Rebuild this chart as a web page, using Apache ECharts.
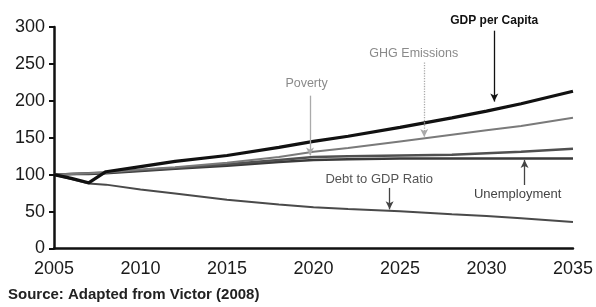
<!doctype html>
<html>
<head>
<meta charset="utf-8">
<title>Victor 2008</title>
<style>
  html, body { margin: 0; padding: 0; background: #fff; }
  #main { width: 596px; height: 307px; }
</style>
</head>
<body>
<div id="main"></div>
<script src="https://cdn.jsdelivr.net/npm/echarts@6/dist/echarts.min.js"></script>
<script>
var years = [2005, 2006, 2007, 2008, 2010, 2012, 2015, 2018, 2020, 2022, 2025, 2028, 2030, 2032, 2035];

var gdpPerCapita = [100, 95, 89, 104, 111, 118, 126, 137, 145, 152, 164, 177, 186, 196, 213];
var ghgEmissions = [100, 101, 102, 103, 107, 110, 116, 124, 131, 136, 145, 154, 160, 166, 177];
var poverty      = [100, 101, 102, 103, 106, 109, 114, 120, 124, 125, 126, 127, 129, 131, 135];
var unemployment = [100, 101, 101, 102, 105, 108, 112, 117, 120, 121, 122, 122, 122, 122, 122];
var debtToGdp    = [100, 94, 88, 86.5, 80, 74.5, 66, 59.5, 56, 53.5, 50.5, 46.5, 44, 41, 36];

// annotation text position [year, value] and arrow [year, from, to]
var labelNames = ['GDP per Capita', 'GHG Emissions', 'Poverty', 'Debt to GDP Ratio', 'Unemployment'];
var labelAt = [[2030.3, 309.5], [2025.8, 264.5], [2019.6, 223], [2023.8, 94], [2031.8, 73.5]];
var arrows = [[2030.45, 295, 199], [2026.4, 252, 151], [2019.8, 207, 126], [2024.4, 82, 53], [2032.2, 86, 120]];

var font = 'Liberation Sans, Arial, sans-serif';

function pairs(vals) {
    return years.map(function (y, i) { return [y, vals[i]]; });
}

function note(i, textStyle, arrowColor, arrowType) {
    var out = {
        markLine: {
            silent: true,
            symbol: ['none', 'arrow'],
            symbolSize: [6, 8],
            label: { show: false },
            lineStyle: { color: arrowColor, width: 1.3, type: arrowType },
            data: [[{ coord: [arrows[i][0], arrows[i][1]] }, { coord: [arrows[i][0], arrows[i][2]] }]]
        }
    };
    if (labelAt[i][1] > 300) {
        // above the plot: hang the text on the arrow start
        out.markLine.label = Object.assign({ show: true, position: 'start', distance: 4,
            formatter: labelNames[i], fontFamily: font }, textStyle);
    } else {
        out.markPoint = {
            symbol: 'circle',
            symbolSize: 1,
            silent: true,
            itemStyle: { color: 'rgba(0,0,0,0)' },
            label: Object.assign({ show: true, position: 'inside', formatter: labelNames[i],
                fontFamily: font }, textStyle),
            data: [{ coord: labelAt[i] }]
        };
    }
    return out;
}

function line(name, vals, color, width, extra) {
    return Object.assign({
        name: name,
        type: 'line',
        data: pairs(vals),
        smooth: false,
        showSymbol: false,
        clip: false,
        lineStyle: { color: color, width: width },
        itemStyle: { color: color }
    }, extra);
}

var chart = echarts.init(document.getElementById('main'));

chart.setOption({
    animation: false,
    backgroundColor: '#fff',
    grid: { left: 54, right: 21, top: 27, bottom: 58.5 },
    xAxis: {
        type: 'value',
        min: 2005,
        max: 2035,
        interval: 5,
        axisLine: { lineStyle: { color: '#111', width: 2.5 } },
        axisTick: { show: false },
        splitLine: { show: false },
        axisLabel: { color: '#1a1a1a', fontSize: 18, margin: 12, fontFamily: font,
            formatter: function (v) { return String(v); } }
    },
    yAxis: {
        type: 'value',
        min: 0,
        max: 300,
        interval: 50,
        axisLine: { show: true, lineStyle: { color: '#111', width: 2.5 } },
        axisTick: { show: true, length: 5, lineStyle: { color: '#111', width: 2 } },
        splitLine: { show: false },
        axisLabel: { color: '#1a1a1a', fontSize: 18, margin: 9, fontFamily: font }
    },
    graphic: [{
        type: 'text',
        left: 8,
        top: 287,
        style: {
            text: 'Source: Adapted from Victor (2008)',
            fill: '#222',
            font: 'bold 15px Liberation Sans, Arial, sans-serif'
        }
    }],
    series: [
        line('Debt to GDP Ratio', debtToGdp, '#4a4a4a', 2,
            note(3, { color: '#555', fontSize: 13 }, '#444', 'solid')),
        line('Unemployment', unemployment, '#3a3a3a', 2.5,
            note(4, { color: '#444', fontSize: 13 }, '#444', 'solid')),
        line('Poverty', poverty, '#505050', 2.5,
            note(2, { color: '#8a8a8a', fontSize: 12.5 }, '#aaa', 'solid')),
        line('GHG Emissions', ghgEmissions, '#7a7a7a', 2,
            note(1, { color: '#8a8a8a', fontSize: 12.5 }, '#aaa', 'dotted')),
        line('GDP per Capita', gdpPerCapita, '#111', 3.2,
            note(0, { color: '#111', fontSize: 12, fontWeight: 'bold' }, '#111', 'solid'))
    ]
});

window.onresize = chart.resize;
</script>
</body>
</html>
